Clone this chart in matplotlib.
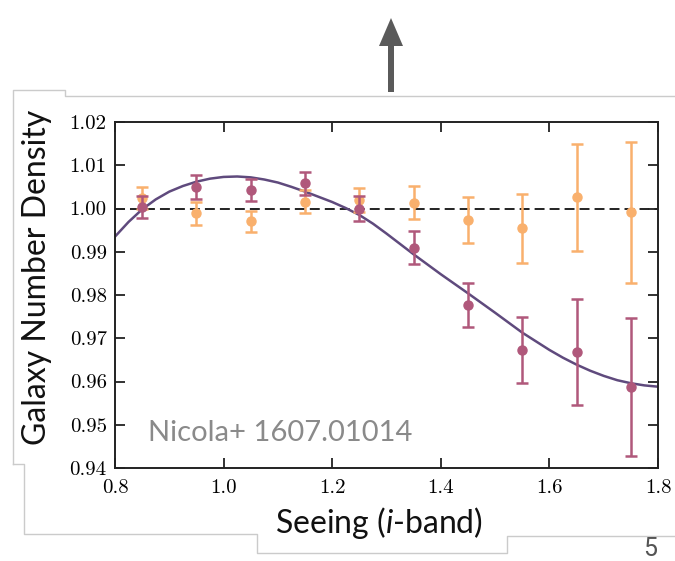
import matplotlib
import numpy as np

matplotlib.use("Agg")
import matplotlib.pyplot as plt
from matplotlib.patches import FancyArrow
from matplotlib.ticker import FormatStrFormatter


# binned galaxy number density vs i-band seeing
SEEING = [0.85, 0.95, 1.05, 1.15, 1.25, 1.35, 1.45, 1.55, 1.65, 1.75]

DENSITY_RAW = [1.0004, 1.0050, 1.0043, 1.0058, 1.0000, 0.9909, 0.9777, 0.9673, 0.9668, 0.9587]
ERR_RAW = [0.0025, 0.0027, 0.0025, 0.0026, 0.0030, 0.0038, 0.0051, 0.0077, 0.0123, 0.0159]

DENSITY_WEIGHTED = [1.0025, 0.9989, 0.9970, 1.0016, 1.0020, 1.0013, 0.9973, 0.9954, 1.0026, 0.9991]
ERR_WEIGHTED = [0.0025, 0.0026, 0.0025, 0.0027, 0.0028, 0.0038, 0.0053, 0.0079, 0.0124, 0.0163]

# fitted trend through the raw points
FIT_X = [0.800, 0.825, 0.850, 0.875, 0.900, 0.925, 0.950, 0.975, 1.000, 1.025,
         1.050, 1.075, 1.100, 1.125, 1.150, 1.175, 1.200, 1.225, 1.250, 1.275,
         1.300, 1.325, 1.350, 1.400, 1.450, 1.500, 1.550, 1.600, 1.625, 1.650,
         1.675, 1.700, 1.725, 1.750, 1.775, 1.800]
FIT_Y = [0.9935, 0.9969, 0.9998, 1.0021, 1.0039, 1.0052, 1.0062, 1.0069, 1.0073, 1.0074,
         1.0072, 1.0067, 1.0060, 1.0050, 1.0039, 1.0027, 1.0015, 1.0001, 0.9985, 0.9965,
         0.9942, 0.9918, 0.9894, 0.9848, 0.9804, 0.9759, 0.9713, 0.9673, 0.9655, 0.9639,
         0.9625, 0.9613, 0.9603, 0.9596, 0.9591, 0.9588]

X_TICKS = [0.8, 1.0, 1.2, 1.4, 1.6, 1.8]
Y_TICKS = [0.94, 0.95, 0.96, 0.97, 0.98, 0.99, 1.00, 1.01, 1.02]

RAW_COLOR = "#b0587b"
WEIGHTED_COLOR = "#f9b06d"
FIT_COLOR = "#5f4a7d"
FRAME_GRAY = "#cbcbcb"

plt.rcParams["mathtext.fontset"] = "custom"
plt.rcParams["mathtext.rm"] = "Lato"
plt.rcParams["mathtext.it"] = "Lato:italic"

W, H = 675, 561
fig = plt.figure(figsize=(W / 100, H / 100), dpi=100)
fig.patch.set_facecolor("white")

# slide decorations in pixel coordinates
deco = fig.add_axes([0, 0, 1, 1])
deco.set_xlim(0, W)
deco.set_ylim(H, 0)
deco.axis("off")
deco.plot([13, 13, 65, 65, W], [464, 90, 90, 96, 96], color=FRAME_GRAY, lw=1.0)
deco.plot([13, 24, 24, 257, 257, 507, 507, W],
          [464, 464, 534, 534, 553, 553, 536, 536], color=FRAME_GRAY, lw=1.0)
deco.add_patch(FancyArrow(391, 92, 0, -74, width=6, head_width=24, head_length=28,
                          length_includes_head=True, color="#5a5a5a", lw=0))
deco.text(650, 549, "5", fontsize=18, color="#555555", family="Roboto",
          ha="center", va="center")

ax = fig.add_axes([115 / W, 1 - 468 / H, 543 / W, 346 / H])

ax.plot(FIT_X, FIT_Y, color=FIT_COLOR, lw=1.8, zorder=2)
ax.axhline(1.0, color="#111111", lw=1.3, ls=(0, (5.5, 2.8)), zorder=1)
ax.errorbar(SEEING, DENSITY_WEIGHTED, yerr=ERR_WEIGHTED, fmt="o", color=WEIGHTED_COLOR,
            ms=6.5, elinewidth=1.8, capsize=4.5, capthick=1.8, zorder=3)
ax.errorbar(SEEING, DENSITY_RAW, yerr=ERR_RAW, fmt="o", color=RAW_COLOR,
            ms=6.5, elinewidth=1.8, capsize=4.5, capthick=1.8, zorder=4)

ax.set_xlim(0.8, 1.8)
ax.set_ylim(0.94, 1.02)
ax.set_xticks(X_TICKS)
ax.set_yticks(Y_TICKS)
ax.xaxis.set_major_formatter(FormatStrFormatter("%.1f"))
ax.yaxis.set_major_formatter(FormatStrFormatter("%.2f"))
ax.tick_params(direction="in", length=7.5, width=1.3, color="#222222",
               top=True, right=True, labelsize=15)
ax.tick_params(axis="x", pad=8)
ax.tick_params(axis="y", pad=6)
for lab in ax.get_xticklabels() + ax.get_yticklabels():
    lab.set_family("cmr10")
for sp in ax.spines.values():
    sp.set_linewidth(1.4)
    sp.set_color("#222222")

ax.text(0.061, 0.078, "Nicola+ 1607.01014", transform=ax.transAxes,
        fontsize=21, color="#8a8a8a", family="Lato", va="baseline")

fig.text(37 / W, 1 - 277 / H, "Galaxy Number Density", rotation=90, fontsize=23,
         family="Lato", ha="center", va="center", color="#111111")
fig.text(379 / W, 1 - 523 / H, r"Seeing ($\mathit{i}$-band)", fontsize=23,
         family="Lato", ha="center", va="center", color="#111111")

fig.savefig("out.png", dpi=100)
